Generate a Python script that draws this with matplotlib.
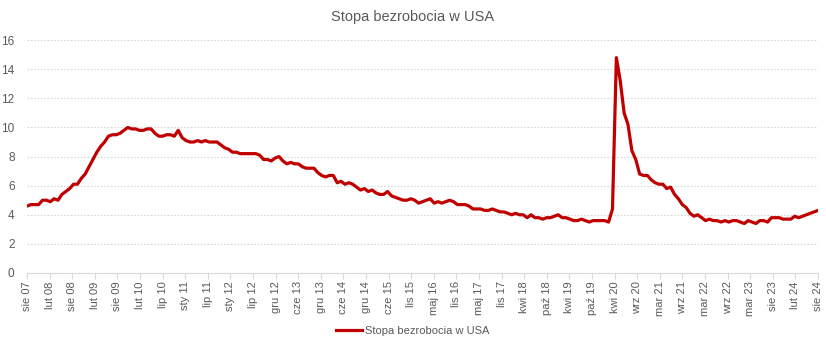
import numpy as np
import matplotlib.pyplot as plt

plt.rcParams['font.family'] = ['Liberation Sans', 'DejaVu Sans']

# monthly US unemployment rate, sie 2007 .. sie 2024
rate = [
    4.6, 4.7, 4.7, 4.7, 5.0,                                          # 2007
    5.0, 4.9, 5.1, 5.0, 5.4, 5.6, 5.8, 6.1, 6.1, 6.5, 6.8, 7.3,       # 2008
    7.8, 8.3, 8.7, 9.0, 9.4, 9.5, 9.5, 9.6, 9.8, 10.0, 9.9, 9.9,      # 2009
    9.8, 9.8, 9.9, 9.9, 9.6, 9.4, 9.4, 9.5, 9.5, 9.4, 9.8, 9.3,       # 2010
    9.1, 9.0, 9.0, 9.1, 9.0, 9.1, 9.0, 9.0, 9.0, 8.8, 8.6, 8.5,       # 2011
    8.3, 8.3, 8.2, 8.2, 8.2, 8.2, 8.2, 8.1, 7.8, 7.8, 7.7, 7.9,       # 2012
    8.0, 7.7, 7.5, 7.6, 7.5, 7.5, 7.3, 7.2, 7.2, 7.2, 6.9, 6.7,       # 2013
    6.6, 6.7, 6.7, 6.2, 6.3, 6.1, 6.2, 6.1, 5.9, 5.7, 5.8, 5.6,       # 2014
    5.7, 5.5, 5.4, 5.4, 5.6, 5.3, 5.2, 5.1, 5.0, 5.0, 5.1, 5.0,       # 2015
    4.8, 4.9, 5.0, 5.1, 4.8, 4.9, 4.8, 4.9, 5.0, 4.9, 4.7, 4.7,       # 2016
    4.7, 4.6, 4.4, 4.4, 4.4, 4.3, 4.3, 4.4, 4.3, 4.2, 4.2, 4.1,       # 2017
    4.0, 4.1, 4.0, 4.0, 3.8, 4.0, 3.8, 3.8, 3.7, 3.8, 3.8, 3.9,       # 2018
    4.0, 3.8, 3.8, 3.7, 3.6, 3.6, 3.7, 3.6, 3.5, 3.6, 3.6, 3.6,       # 2019
    3.6, 3.5, 4.4, 14.8, 13.2, 11.0, 10.2, 8.4, 7.8, 6.8, 6.7, 6.7,   # 2020
    6.4, 6.2, 6.1, 6.1, 5.8, 5.9, 5.4, 5.1, 4.7, 4.5, 4.1, 3.9,       # 2021
    4.0, 3.8, 3.6, 3.7, 3.6, 3.6, 3.5, 3.6, 3.5, 3.6, 3.6, 3.5,       # 2022
    3.4, 3.6, 3.5, 3.4, 3.6, 3.6, 3.5, 3.8, 3.8, 3.8, 3.7, 3.7,       # 2023
    3.7, 3.9, 3.8, 3.9, 4.0, 4.1, 4.2, 4.3,                           # 2024
]

tick_labels = [
    'sie 07', 'lut 08', 'sie 08', 'lut 09', 'sie 09', 'lut 10', 'lip 10',
    'sty 11', 'lip 11', 'sty 12', 'lip 12', 'gru 12', 'cze 13', 'gru 13',
    'cze 14', 'gru 14', 'cze 15', 'lis 15', 'maj 16', 'lis 16', 'maj 17',
    'lis 17', 'kwi 18', 'paź 18', 'kwi 19', 'paź 19', 'kwi 20', 'wrz 20',
    'mar 21', 'wrz 21', 'mar 22', 'wrz 22', 'mar 23', 'sie 23', 'lut 24',
    'sie 24',
]

TXT = '#595959'
GRID = '#d9d9d9'
RED = '#c00000'

fig = plt.figure(figsize=(8.26, 3.46), dpi=100)
ax = fig.add_axes([0.0327, 0.211, 0.9576, 0.673])

x = np.arange(len(rate))
ax.plot(x, rate, color=RED, lw=2.3, label='Stopa bezrobocia w USA', solid_joinstyle='round')

ax.set_xlim(0, len(rate) - 1)
ax.set_ylim(0, 16)
ax.set_yticks(np.arange(0, 17, 2))
ax.set_xticks(np.linspace(0, len(rate) - 1, len(tick_labels)))
ax.set_xticklabels(tick_labels, rotation=90)

ax.grid(axis='y', color=GRID, ls=(0, (1.5, 1.5)), lw=0.8)
ax.set_axisbelow(True)
for s in ['top', 'right', 'left']:
    ax.spines[s].set_visible(False)
ax.spines['bottom'].set_color(GRID)
ax.tick_params(axis='y', length=0, labelsize=8.5, colors=TXT, pad=9)
ax.tick_params(axis='x', length=4, color=GRID, labelsize=8, labelcolor=TXT, pad=2)

fig.suptitle('Stopa bezrobocia w USA', color=TXT, fontsize=10.5, y=0.97)
fig.legend(loc='lower center', bbox_to_anchor=(0.5, 0.0), frameon=False,
           fontsize=8, labelcolor=TXT, handlelength=2.3, handletextpad=0.3)

fig.savefig('out.png', dpi=100, facecolor='white')
